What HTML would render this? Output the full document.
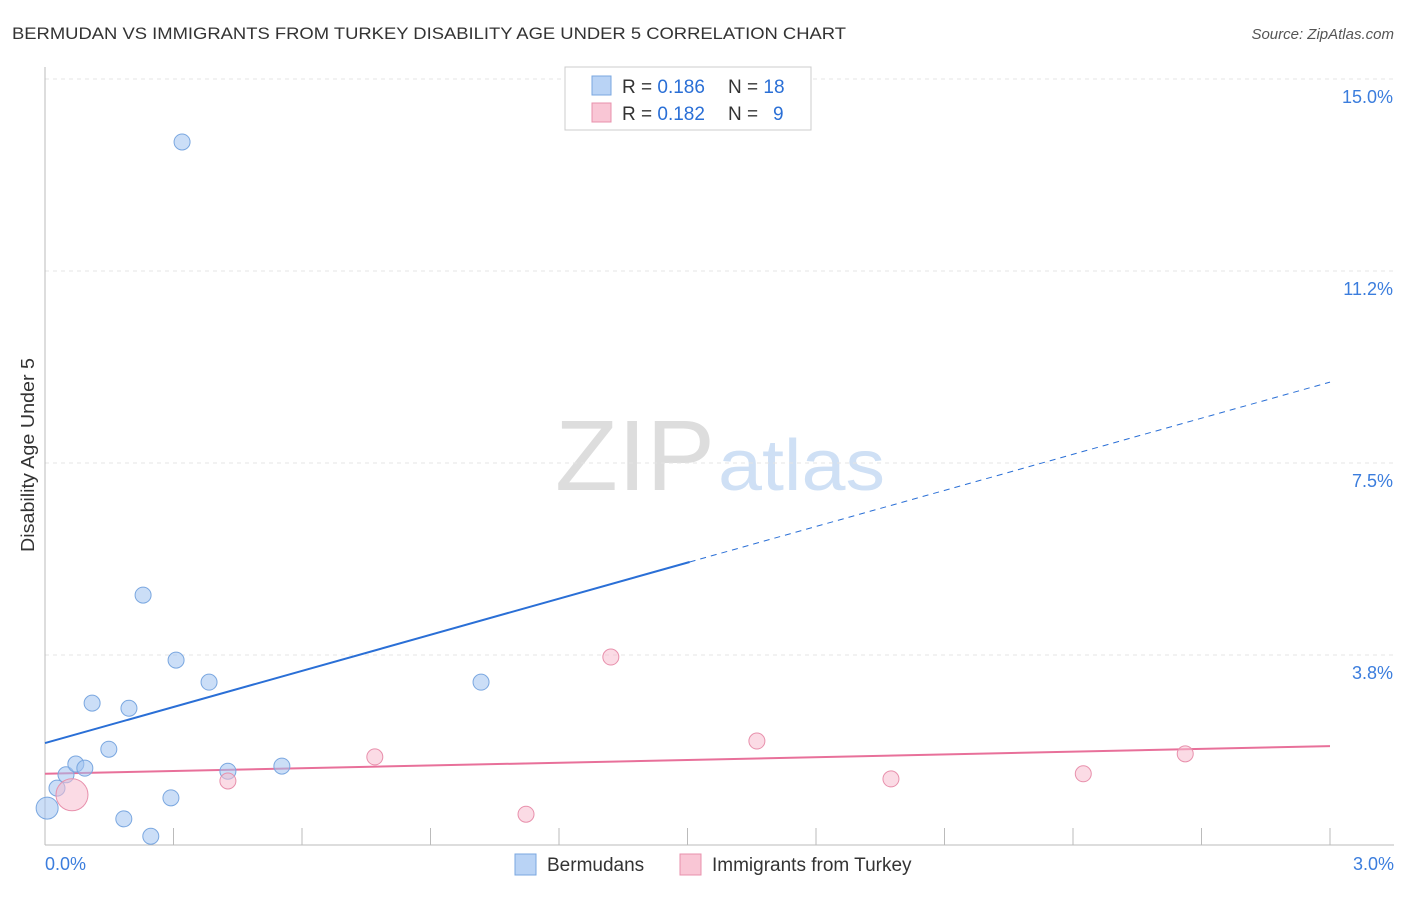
<!DOCTYPE html>
<html><head><meta charset="utf-8"><style>
body{margin:0;background:#fff;font-family:"Liberation Sans",sans-serif}
svg text{font-family:"Liberation Sans",sans-serif}
</style></head><body>
<svg id="c" width="1406" height="892">
<text x="12" y="39" font-size="17" fill="#333" textLength="834" lengthAdjust="spacingAndGlyphs">BERMUDAN VS IMMIGRANTS FROM TURKEY DISABILITY AGE UNDER 5 CORRELATION CHART</text>
<text x="1394" y="39" font-size="15" fill="#555" text-anchor="end" font-style="italic">Source: ZipAtlas.com</text>
<text x="555" y="490" font-size="100" fill="#ddd" textLength="160" lengthAdjust="spacingAndGlyphs" font-family="Liberation Serif">ZIP</text>
<text x="718" y="490" font-size="72" fill="#cfe0f5" textLength="167" lengthAdjust="spacingAndGlyphs">atlas</text>
<text transform="translate(34,455) rotate(-90)" font-size="18" fill="#333" text-anchor="middle" textLength="194" lengthAdjust="spacingAndGlyphs">Disability Age Under 5</text>
<g id="grid"></g><g id="marks"></g>
<g>
<rect x="565" y="67" width="246" height="63" fill="#fff" stroke="#ccc"/>
<rect x="592" y="76" width="19" height="19" fill="#b9d3f5" stroke="#7aa7e0"/>
<text x="622" y="93" font-size="19" fill="#333">R = <tspan fill="#2a6fd6">0.186</tspan></text>
<text x="728" y="93" font-size="19" fill="#333">N = <tspan fill="#2a6fd6">18</tspan></text>
<rect x="592" y="103" width="19" height="19" fill="#f9c6d5" stroke="#e890ac"/>
<text x="622" y="120" font-size="19" fill="#333">R = <tspan fill="#2a6fd6">0.182</tspan></text>
<text x="728" y="120" font-size="19" fill="#333">N = </text>
<text x="773" y="120" font-size="19" fill="#2a6fd6">9</text>
</g>
<g>
<rect x="515" y="854" width="21" height="21" fill="#b9d3f5" stroke="#7aa7e0"/>
<text x="547" y="871" font-size="19" fill="#333">Bermudans</text>
<rect x="680" y="854" width="21" height="21" fill="#f9c6d5" stroke="#e890ac"/>
<text x="712" y="871" font-size="19" fill="#333">Immigrants from Turkey</text>
</g>
</svg>
<script>
const yTicks=[3.75,7.5,11.25,15.0];
const yTickLabels=["3.8%","7.5%","11.2%","15.0%"];
const xTickLabels=["0.0%","3.0%"];
const blueX=[0.005,0.028,0.049,0.072,0.093,0.110,0.149,0.184,0.196,0.229,0.247,0.294,0.306,0.320,0.383,0.427,0.553,1.018];
const blueY=[0.76,1.15,1.41,1.62,1.54,2.81,1.91,0.55,2.71,4.92,0.21,0.96,3.65,13.77,3.22,1.48,1.58,3.22];
const pinkX=[0.063,0.427,0.770,1.123,1.321,1.662,1.975,2.424,2.662];
const pinkY=[1.02,1.29,1.76,0.64,3.71,2.07,1.33,1.43,1.82];
const blueLine=[2.03,9.08];
const pinkLine=[1.43,1.97];
const X=v=>45+v/3*1285, Y=v=>847-v*51.2;
const NS="http://www.w3.org/2000/svg";
function mk(p,t,a){const e=document.createElementNS(NS,t);for(const k in a)e.setAttribute(k,a[k]);p.appendChild(e);return e;}
const g=document.getElementById('grid'),m=document.getElementById('marks');
yTicks.forEach((v,i)=>{
 const l=mk(g,'line',{x1:45,x2:1394,y1:Y(v),y2:Y(v),stroke:'#e4e4e4','stroke-dasharray':'4,4'});
 
 
 const t=mk(g,'text',{x:1393,y:Y(v)+24,'font-size':18,fill:'#3b7ddd','text-anchor':'end'});t.textContent=yTickLabels[i];
 
 
});
const ax=mk(g,'line',{x1:45,x2:45,y1:67,y2:845,stroke:'#bbb'});


const bx=mk(g,'line',{x1:45,x2:1394,y1:845,y2:845,stroke:'#bbb'});


for(let i=1;i<=10;i++){const t=mk(g,'line',{x1:X(i*0.3),x2:X(i*0.3),y1:828,y2:845,stroke:'#bbb'});
 
 }
[[0,45,'start'],[3,1394,'end']].forEach((d,i)=>{const t=mk(g,'text',{x:d[1],y:870,'font-size':18,fill:'#3b7ddd','text-anchor':d[2]});t.textContent=xTickLabels[i];
 
 });
const bm=(blueLine[1]-blueLine[0])/3, xs=1.505;
const l1=mk(m,'line',{x1:X(0),y1:Y(blueLine[0]),x2:X(xs),y2:Y(blueLine[0]+bm*xs),stroke:'#2a6fd6','stroke-width':2});


const l2=mk(m,'line',{x1:X(xs),y1:Y(blueLine[0]+bm*xs),x2:X(3),y2:Y(blueLine[1]),stroke:'#2a6fd6','stroke-width':1,'stroke-dasharray':'6,5'});


const l3=mk(m,'line',{x1:X(0),y1:Y(pinkLine[0]),x2:X(3),y2:Y(pinkLine[1]),stroke:'#e8709a','stroke-width':2});


blueX.forEach((x,i)=>{const c=mk(m,'circle',{cx:X(x),cy:Y(blueY[i]),r:i==0?11:8,fill:'rgba(160,195,240,0.55)',stroke:'#7aa7e0'});
 
 });
pinkX.forEach((x,i)=>{const c=mk(m,'circle',{cx:X(x),cy:Y(pinkY[i]),r:i==0?16:8,fill:'rgba(248,190,208,0.55)',stroke:'#e890ac'});
 
 });
</script>
</body></html>
